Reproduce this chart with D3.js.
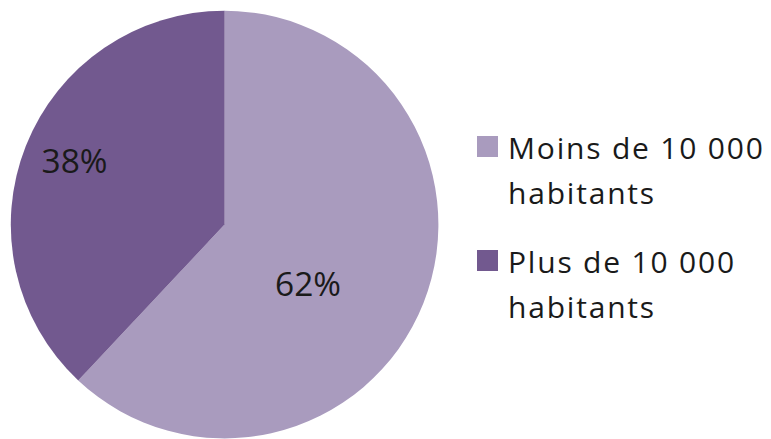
<!DOCTYPE html>
<html lang="fr">
<head>
<meta charset="utf-8">
<script src="https://cdn.jsdelivr.net/npm/d3@7"></script>
<style>
  html, body { margin: 0; padding: 0; background: #ffffff; }
  svg { display: block; }
  text { font-family: "Open Sans", "Noto Sans", sans-serif; fill: #1a1a1a; }
</style>
</head>
<body>
<svg id="chart" width="771" height="439"></svg>
<script>
// Répartition des communes selon leur taille
const categories = ["Moins de 10 000 habitants", "Plus de 10 000 habitants"];
const legendLines = [["Moins de 10 000", "habitants"], ["Plus de 10 000", "habitants"]];
const shares = [62, 38];
const colors = ["#a99bbe", "#72598f"];

const svg = d3.select("#chart");
const cx = 224.6, cy = 224.6, radius = 213.8;

const data = categories.map((c, i) => ({ category: c, value: shares[i], color: colors[i], lines: legendLines[i] }));

const pie = d3.pie().sort(null).value(d => d.value);
const arc = d3.arc().innerRadius(0).outerRadius(radius);
const arcs = pie(data);

const g = svg.append("g").attr("transform", `translate(${cx},${cy})`);

g.selectAll("path.slice")
  .data(arcs)
  .join("path")
  .attr("class", "slice")
  .attr("d", arc)
  .attr("fill", d => d.data.color);

// Étiquettes de pourcentage, placées le long de l'angle médian de chaque part
const labelRadius = [0.49, 0.76];
const labelShift = [[-14, 20], [1, -5]];
g.selectAll("text.pct")
  .data(arcs)
  .join("text")
  .attr("class", "pct")
  .each(function (d, i) {
    const r = radius * labelRadius[i];
    const a = (d.startAngle + d.endAngle) / 2;
    d3.select(this)
      .attr("x", Math.sin(a) * r + labelShift[i][0])
      .attr("y", -Math.cos(a) * r + labelShift[i][1]);
  })
  .attr("text-anchor", "middle")
  .attr("dominant-baseline", "central")
  .attr("font-size", 33.5)
  .text(d => d.data.value + "%");

// Légende
const legend = svg.append("g").attr("transform", "translate(477,0)");
const rowY = [159, 273];
const lineGap = 45;

const rows = legend.selectAll("g.row")
  .data(data)
  .join("g")
  .attr("class", "row")
  .attr("transform", (d, i) => `translate(0,${rowY[i]})`);

rows.append("rect")
  .attr("x", 0)
  .attr("y", -23)
  .attr("width", 21)
  .attr("height", 21)
  .attr("fill", d => d.color);

rows.append("text")
  .attr("x", 31)
  .attr("y", 0)
  .attr("font-size", 30)
  .attr("letter-spacing", 1.8)
  .selectAll("tspan")
  .data(d => d.lines)
  .join("tspan")
  .attr("x", 31)
  .attr("dy", (d, i) => i === 0 ? 0 : lineGap)
  .text(d => d);
</script>
</body>
</html>
